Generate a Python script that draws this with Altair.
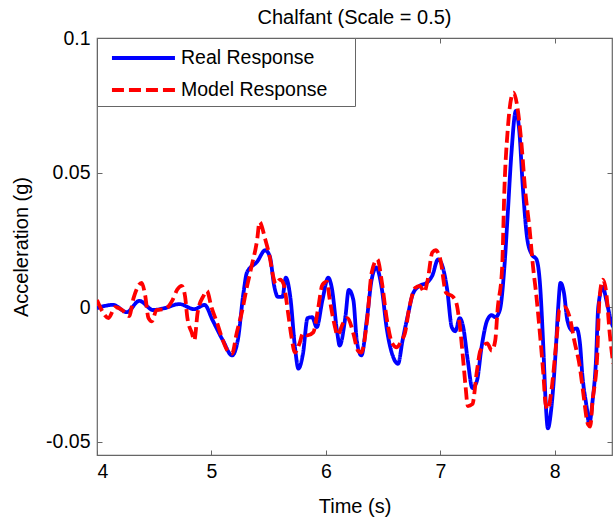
import altair as alt
import pandas as pd

real_t = [4.00, 4.14, 4.26, 4.37, 4.49, 4.59, 4.72, 4.85, 4.94, 5.01, 5.10, 5.18, 5.23, 5.28, 5.31,
          5.40, 5.47, 5.51, 5.55, 5.58, 5.62, 5.65, 5.69, 5.73, 5.76, 5.80, 5.84, 5.88, 5.92, 5.97,
          6.02, 6.05, 6.10, 6.12, 6.17, 6.20, 6.24, 6.27, 6.31, 6.36, 6.40, 6.44, 6.49, 6.53, 6.59,
          6.63, 6.67, 6.72, 6.76, 6.82, 6.88, 6.93, 6.98, 7.01, 7.06, 7.10, 7.13, 7.17, 7.20, 7.24,
          7.28, 7.32, 7.36, 7.41, 7.45, 7.48, 7.52, 7.56, 7.59, 7.62, 7.66, 7.69, 7.72, 7.76, 7.80,
          7.84, 7.87, 7.90, 7.92, 7.94, 7.97, 8.01, 8.03, 8.05, 8.08, 8.11, 8.15, 8.19, 8.22, 8.24,
          8.28, 8.30, 8.33, 8.36, 8.38, 8.42, 8.45, 8.49, 8.51]
real_a = [-0.0004, 0.0008, -0.0019, 0.0023, -0.0011, -0.0004, 0.0011, -0.0008, 0.0008, -0.0049,
          -0.0124, -0.0180, -0.0124, 0.0053, 0.0128, 0.0169, 0.0211, 0.0188, 0.0075, 0.0038,
          0.0038, 0.0109, 0.0034, -0.0150, -0.0229, -0.0173, -0.0041, -0.0038, -0.0075, 0.0026,
          0.0109, 0.0075, -0.0098, -0.0143, -0.0038, 0.0064, 0.0026, -0.0124, -0.0180, -0.0038,
          0.0102, 0.0147, 0.0064, -0.0075, -0.0188, -0.0211, -0.0124, -0.0023, 0.0049, 0.0079,
          0.0090, 0.0117, 0.0177, 0.0162, 0.0064, -0.0075, -0.0090, -0.0041, -0.0075, -0.0199,
          -0.0301, -0.0274, -0.0150, -0.0049, -0.0030, -0.0038, -0.0011, 0.0150, 0.0353, 0.0564,
          0.0729, 0.0654, 0.0451, 0.0252, 0.0195, 0.0177, 0.0090, -0.0150, -0.0350, -0.0451,
          -0.0376, -0.0150, 0.0000, 0.0090, 0.0053, -0.0049, -0.0086, -0.0079, -0.0135, -0.0248,
          -0.0376, -0.0436, -0.0350, -0.0199, 0.0000, 0.0075, 0.0026, -0.0049, -0.0075]

model_t = [4.00, 4.04, 4.10, 4.16, 4.22, 4.28, 4.32, 4.39, 4.42, 4.45, 4.48, 4.52, 4.59, 4.66, 4.70,
           4.74, 4.77, 4.79, 4.83, 4.85, 4.88, 4.93, 4.96, 5.00, 5.05, 5.10, 5.14, 5.18, 5.22, 5.27,
           5.31, 5.35, 5.40, 5.42, 5.47, 5.51, 5.54, 5.56, 5.60, 5.63, 5.67, 5.70, 5.73, 5.77, 5.80,
           5.84, 5.89, 5.93, 5.97, 6.01, 6.03, 6.08, 6.10, 6.15, 6.19, 6.24, 6.28, 6.31, 6.36, 6.40,
           6.45, 6.49, 6.53, 6.58, 6.62, 6.66, 6.69, 6.73, 6.78, 6.82, 6.86, 6.89, 6.93, 6.96, 7.00,
           7.05, 7.11, 7.14, 7.17, 7.20, 7.22, 7.24, 7.28, 7.32, 7.35, 7.41, 7.45, 7.48, 7.50, 7.54,
           7.56, 7.59, 7.62, 7.64, 7.67, 7.71, 7.74, 7.78, 7.81, 7.84, 7.87, 7.90, 7.92, 7.94, 7.97,
           8.02, 8.04, 8.09, 8.13, 8.17, 8.22, 8.25, 8.29, 8.31, 8.33, 8.37, 8.39, 8.42, 8.45, 8.48,
           8.51]
model_a = [0.0026, -0.0011, -0.0041, 0.0000, -0.0011, -0.0034, 0.0034, 0.0090, 0.0045, -0.0041,
           -0.0053, -0.0011, -0.0008, 0.0026, 0.0064, 0.0079, 0.0038, -0.0041, -0.0098, -0.0124,
           -0.0019, 0.0041, 0.0060, 0.0000, -0.0060, -0.0124, -0.0162, -0.0173, -0.0098, -0.0011,
           0.0075, 0.0150, 0.0252, 0.0316, 0.0252, 0.0184, 0.0113, 0.0086, 0.0102, 0.0086,
           -0.0023, -0.0113, -0.0169, -0.0135, -0.0098, -0.0105, -0.0094, -0.0011, 0.0083, 0.0094,
           0.0038, -0.0075, -0.0105, -0.0060, -0.0041, -0.0098, -0.0162, -0.0169, -0.0049, 0.0128,
           0.0177, 0.0090, -0.0038, -0.0135, -0.0150, -0.0124, -0.0098, 0.0000, 0.0071, 0.0079,
           0.0056, 0.0102, 0.0203, 0.0211, 0.0177, 0.0053, 0.0038, 0.0015, -0.0068, -0.0199,
           -0.0293, -0.0368, -0.0361, -0.0237, -0.0162, -0.0135, -0.0162, -0.0124, -0.0011, 0.0147,
           0.0440, 0.0665, 0.0778, 0.0797, 0.0752, 0.0602, 0.0440, 0.0289, 0.0150, 0.0038,
           -0.0098, -0.0248, -0.0361, -0.0380, -0.0312, -0.0098, -0.0011, 0.0000, -0.0038, -0.0124,
           -0.0226, -0.0323, -0.0436, -0.0444, -0.0350, -0.0188, 0.0026, 0.0102, 0.0053, -0.0098,
           -0.0211]

series_names = ["Real Response", "Model Response"]
x_ticks = [4, 5, 6, 7, 8]
y_ticks = [-0.05, 0, 0.05, 0.1]

real_df = pd.DataFrame({"t": real_t, "a": real_a, "series": series_names[0], "order": range(len(real_t))})
model_df = pd.DataFrame({"t": model_t, "a": model_a, "series": series_names[1], "order": range(len(model_t))})

FONT = "Liberation Sans"
FRAME = "#666666"

xscale = alt.Scale(domain=[4, 8.5], nice=False, zero=False)
yscale = alt.Scale(domain=[-0.055, 0.1], nice=False, zero=False)
color_scale = alt.Scale(domain=series_names, range=["#0000FF", "#FF0000"])
dash_scale = alt.Scale(domain=series_names, range=[[1, 0], [12, 5]])

legend = alt.Legend(
    title="\u00a0", titleOrient="right", titleFontSize=2, titlePadding=22,
    orient="top-left", offset=0, symbolType="M-0.42,0H4.83", symbolSize=576,
    symbolStrokeWidth=4, labelFontSize=19.5, labelFont=FONT, labelColor="black",
    labelOffset=50, padding=6, rowPadding=8, strokeColor=FRAME, fillColor="white",
    cornerRadius=0,
)

def axis_common(**kw):
    base = dict(ticks=True, tickSize=5, tickColor=FRAME, tickWidth=1, domain=False, grid=False,
                offset=-5, labelFont=FONT, labelFontSize=19.5, labelColor="black",
                titleFont=FONT, titleFontSize=20, titleFontWeight="normal", titleColor="black")
    base.update(kw)
    return alt.Axis(**base)

x_bottom = axis_common(orient="bottom", values=x_ticks, title="Time (s)", labelPadding=7,
                       titlePadding=16, format="d")
y_left = axis_common(orient="left", values=y_ticks, title="Acceleration (g)", labelPadding=7,
                     titlePadding=14, labelExpr="'' + datum.value")
x_top = axis_common(orient="top", values=x_ticks, labels=False, title=None)
y_right = axis_common(orient="right", values=y_ticks, labels=False, title=None)

real_line = alt.Chart(real_df).mark_line(strokeWidth=3.8, clip=True, interpolate="monotone").encode(
    x=alt.X("t:Q", scale=xscale, axis=x_bottom),
    y=alt.Y("a:Q", scale=yscale, axis=y_left),
    color=alt.Color("series:N", scale=color_scale, legend=legend),
    strokeDash=alt.StrokeDash("series:N", scale=dash_scale, legend=legend),
    order="order:Q",
)

model_line = alt.Chart(model_df).mark_line(strokeWidth=3.8, clip=True, interpolate="monotone").encode(
    x=alt.X("t:Q", scale=xscale, axis=x_top),
    y=alt.Y("a:Q", scale=yscale, axis=y_right),
    color=alt.Color("series:N", scale=color_scale, legend=legend),
    strokeDash=alt.StrokeDash("series:N", scale=dash_scale, legend=legend),
    order="order:Q",
)

chart = alt.layer(real_line, model_line).resolve_axis(x="independent", y="independent").properties(
    width=515, height=417,
    autosize=alt.AutoSizeParams(type="none"),
    padding={"left": 97, "top": 38, "right": 3, "bottom": 66},
    title=alt.TitleParams("Chalfant (Scale = 0.5)", font=FONT, fontSize=20, fontWeight="normal",
                          color="black", anchor="middle", offset=0),
    background="white",
).configure_view(stroke=FRAME, strokeWidth=1.2)

chart.save("out.html", embed_options={"renderer": "svg", "actions": False})
